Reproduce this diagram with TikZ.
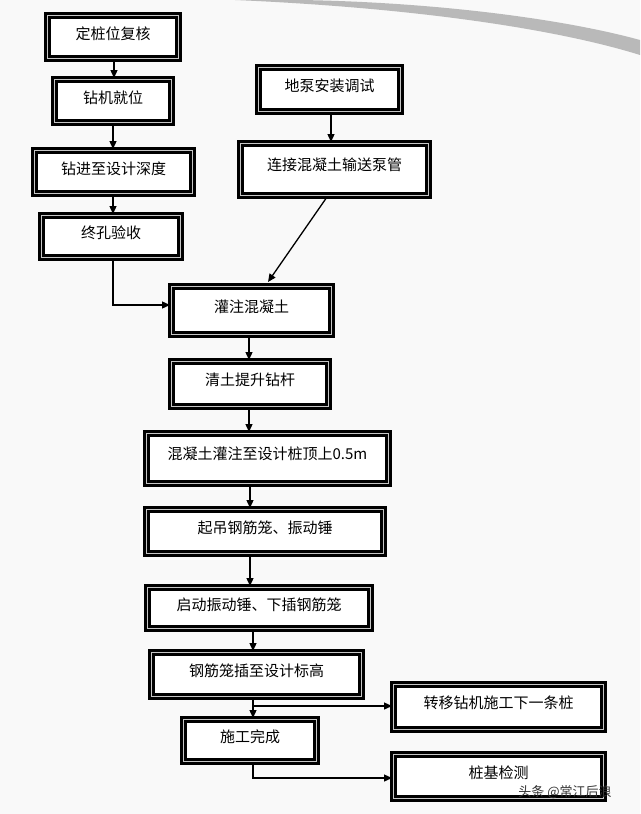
\documentclass[tikz,border=0pt]{standalone}
\usepackage{fontspec}
\setmainfont{Noto Sans CJK SC}
\usetikzlibrary{arrows.meta}
\begin{document}
\begin{tikzpicture}[x=1pt,y=-1pt,
  box/.style={draw=black,line width=3pt,double=gray!45,double distance=1.8pt,fill=white,
    inner sep=0pt},
  lab/.style={font=\fontsize{15}{17}\selectfont},
  arr/.style={-{Triangle[length=8pt,width=7pt]},line width=1.3pt}]
\useasboundingbox (0,0) rectangle (640,814);
\fill[gray!5] (0,0) rectangle (640,814);
\fill[gray!55] (235,0) .. controls (420,8) and (560,30) .. (640,55) -- (640,40) .. controls (560,18) and (430,2) .. (300,0) -- cycle;
\newcommand{\bx}[6]{\node[box,minimum width=#3-#2-3,minimum height=#5-#4-3] (#1) at ({(#2+#3)/2},{(#4+#5)/2}) {};
  \node[lab] at ({(#2+#3)/2},{#4+(#5-#4)*0.42}) {#6};}
\bx{a}{46}{180}{14}{60}{定桩位复核}
\bx{b}{53}{173}{78}{124}{钻机就位}
\bx{c}{33}{194}{149}{195}{钻进至设计深度}
\bx{d}{40}{182}{214}{259}{终孔验收}
\bx{p}{257}{402}{66}{113}{地泵安装调试}
\bx{q}{239}{430}{142}{197}{连接混凝土输送泵管}
\bx{e}{170}{333}{285}{336}{灌注混凝土}
\bx{f}{170}{330}{360}{408}{清土提升钻杆}
\bx{g}{145}{390}{432}{485}{混凝土灌注至设计桩顶上0.5m}
\bx{h}{145}{385}{508}{555}{起吊钢筋笼、振动锤}
\bx{i}{146}{372}{586}{630}{启动振动锤、下插钢筋笼}
\bx{j}{150}{363}{651}{698}{钢筋笼插至设计标高}
\bx{k}{392}{605}{683}{731}{转移钻机施工下一条桩}
\bx{l}{182}{318}{718}{763}{施工完成}
\bx{m}{392}{605}{753}{800}{桩基检测}
\draw[arr] (a.south -| 114,0) -- (b.north -| 114,0);
\draw[arr] (b.south -| 113,0) -- (c.north -| 113,0);
\draw[arr] (c.south -| 113,0) -- (d.north -| 113,0);
\draw[arr] (d.south -| 113,0) |- (e.west |- 0,305);
\draw[arr] (p.south -| 331,0) -- (q.north -| 331,0);
\draw[arr] (q.south -| 327,0) -- (268,282);
\draw[arr] (e.south -| 249,0) -- (f.north -| 249,0);
\draw[arr] (f.south -| 249,0) -- (g.north -| 249,0);
\draw[arr] (g.south -| 250,0) -- (h.north -| 250,0);
\draw[arr] (h.south -| 250,0) -- (i.north -| 250,0);
\draw[arr] (i.south -| 253,0) -- (j.north -| 253,0);
\draw[arr] (j.south -| 253,0) -- (l.north -| 253,0);
\coordinate (br) at (253,706);
\draw[arr] (br) -- (k.west |- br);
\draw[arr] (l.south -| 253,0) |- (m.west |- 0,778);
\node[font=\fontsize{13}{15}\selectfont,text=black!80] at (565,792) {头条 @常江后浪};
\end{tikzpicture}
\end{document}
